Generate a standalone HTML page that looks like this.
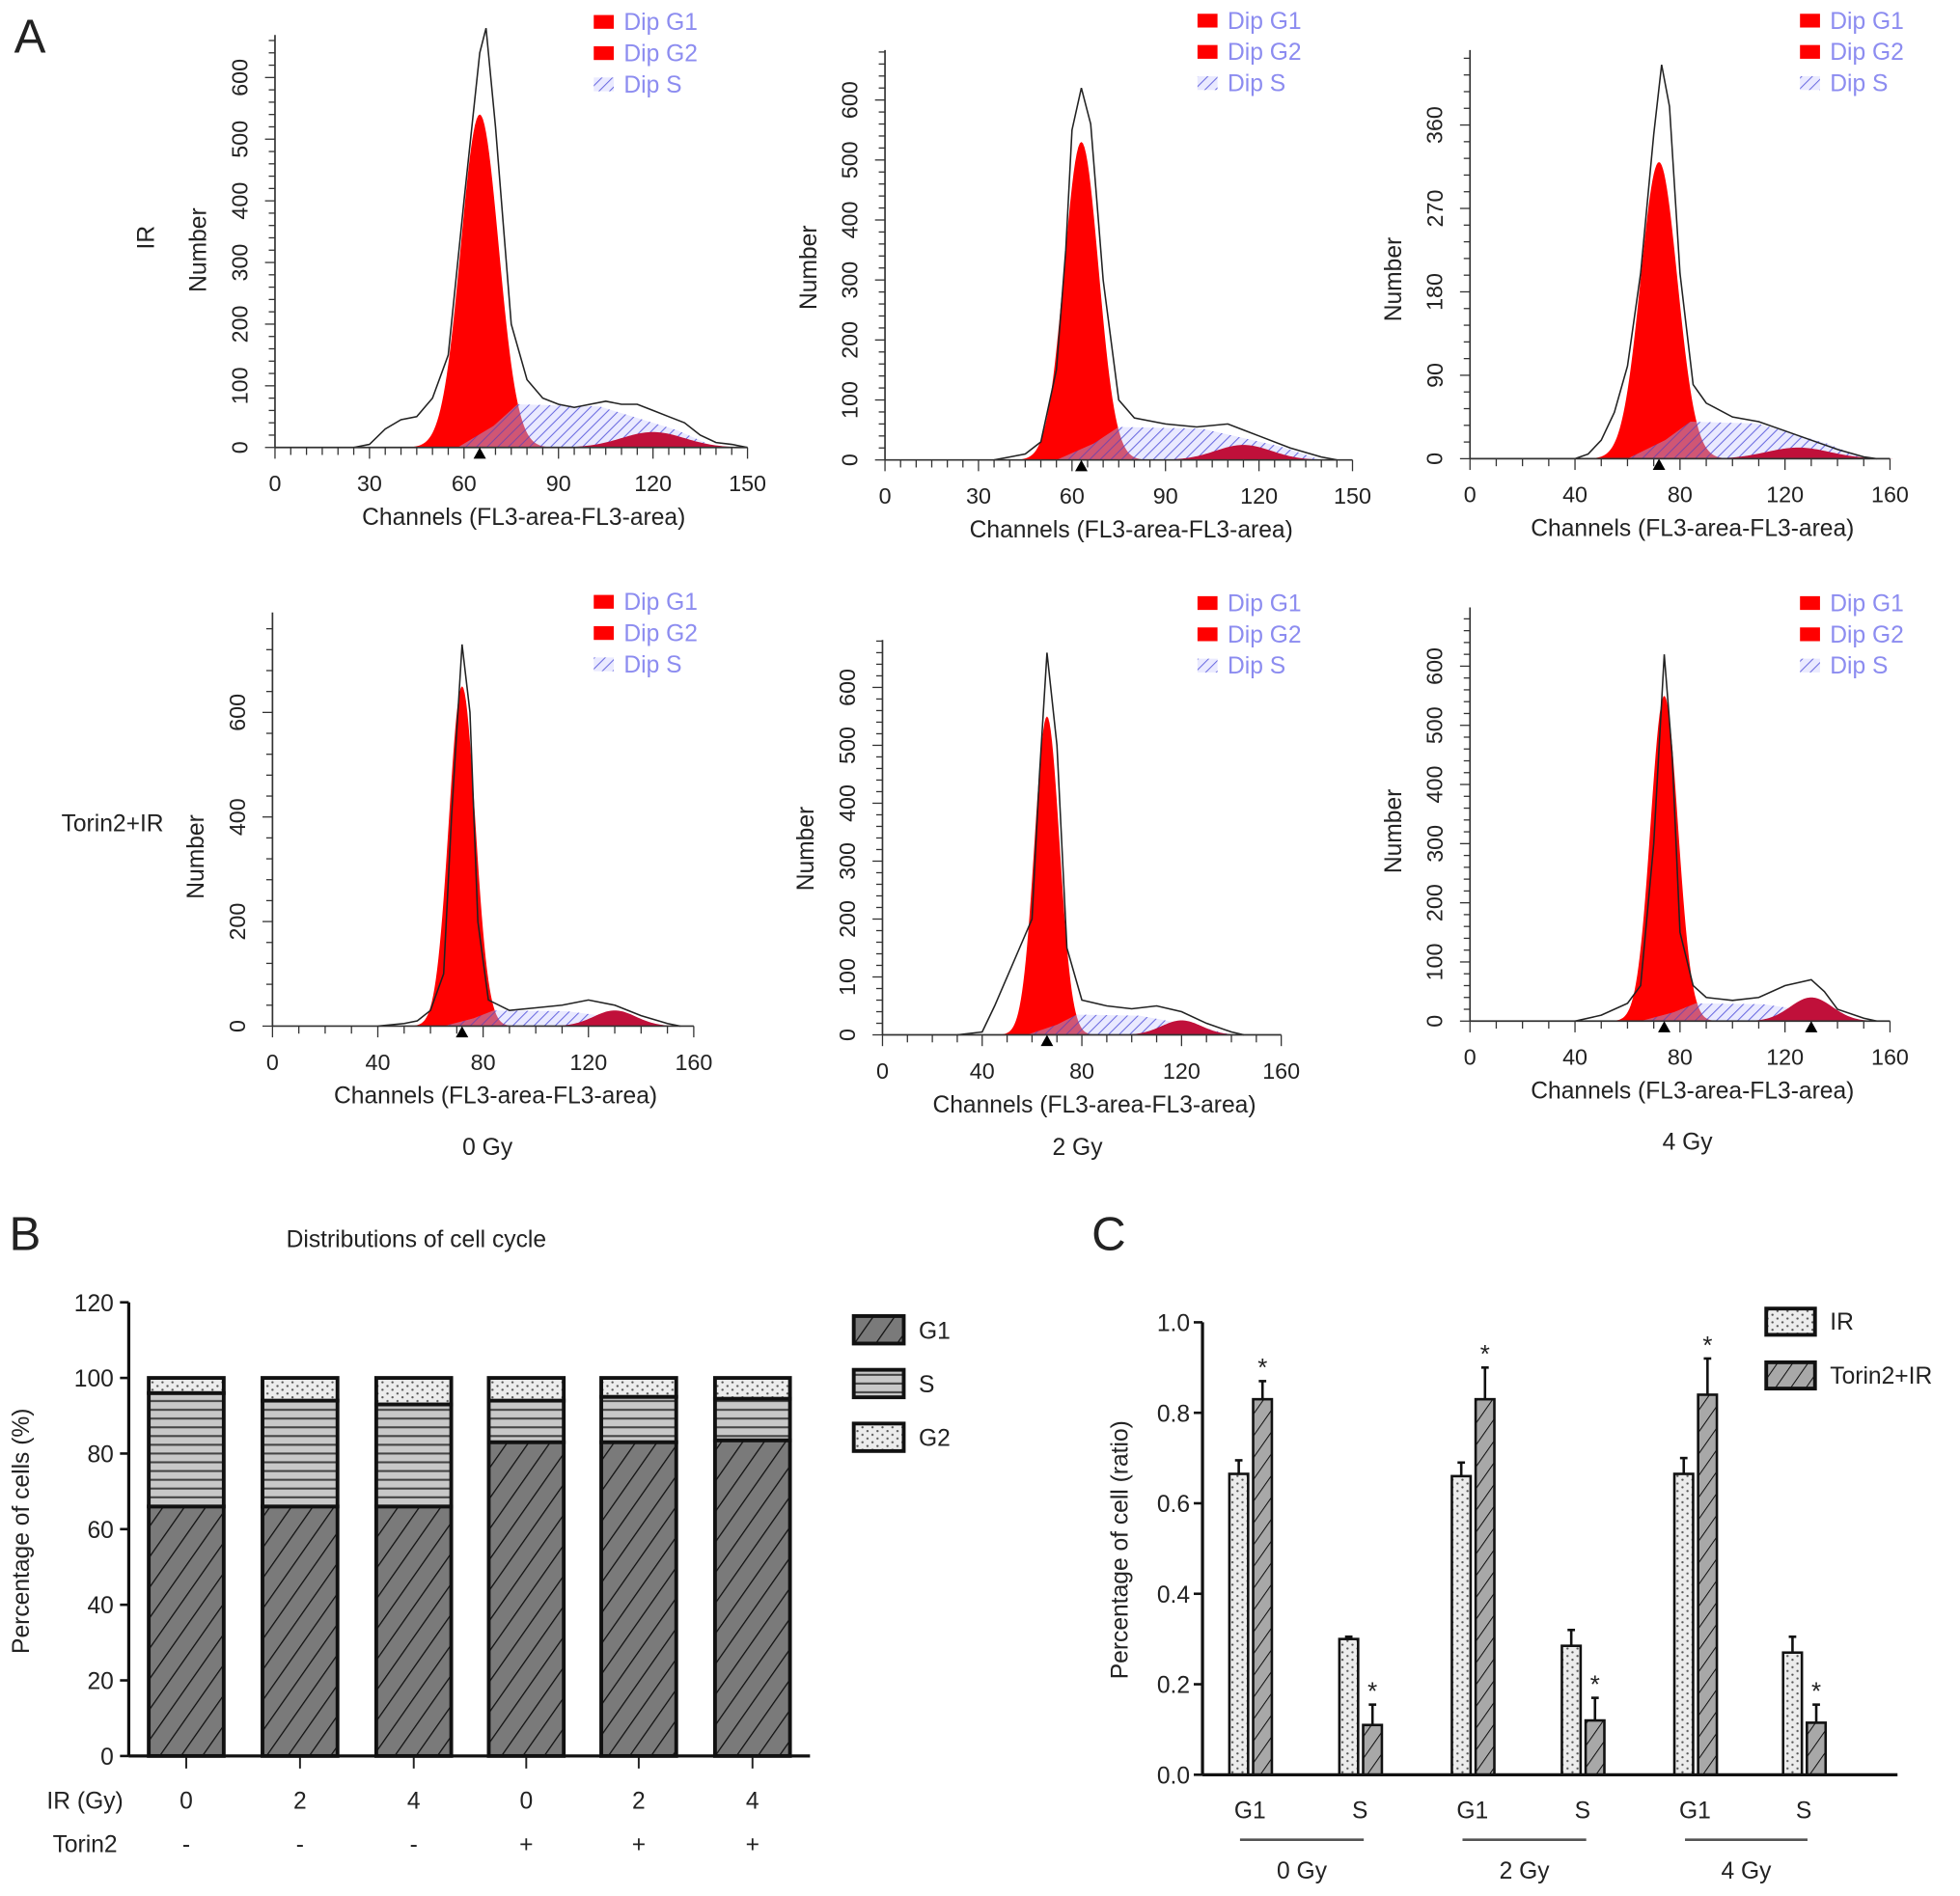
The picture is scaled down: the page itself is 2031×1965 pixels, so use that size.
<!DOCTYPE html>
<html><head><meta charset="utf-8"><style>
html,body{margin:0;padding:0;background:#fff}
svg{display:block}
text{font-family:"Liberation Sans",Arial,sans-serif}
</style></head><body>
<svg id="fig" width="2031" height="1965" viewBox="0 0 1568 1517" xmlns="http://www.w3.org/2000/svg">
<defs>
<pattern id="hatchS" patternUnits="userSpaceOnUse" width="6" height="6" patternTransform="rotate(45)"><rect width="6" height="6" fill="#dcdcff" opacity="0.6"/><line x1="0" y1="0" x2="0" y2="6" stroke="#6a6ae0" stroke-width="1.6"/></pattern>
<pattern id="diag" patternUnits="userSpaceOnUse" width="14" height="14" patternTransform="rotate(35)"><rect width="14" height="14" fill="#7a7a7a"/><line x1="0" y1="0" x2="0" y2="14" stroke="#111" stroke-width="2"/></pattern>
<pattern id="diagC" patternUnits="userSpaceOnUse" width="10" height="10" patternTransform="rotate(35)"><rect width="10" height="10" fill="#a8a8a8"/><line x1="0" y1="0" x2="0" y2="10" stroke="#111" stroke-width="1.6"/></pattern>
<pattern id="horiz" patternUnits="userSpaceOnUse" width="8" height="7"><rect width="8" height="7" fill="#c8c8c8"/><line x1="0" y1="1" x2="8" y2="1" stroke="#444" stroke-width="1.6"/></pattern>
<pattern id="dots" patternUnits="userSpaceOnUse" width="8" height="6"><rect width="8" height="6" fill="#ececec"/><circle cx="2" cy="2" r="0.9" fill="#555"/><circle cx="6" cy="5" r="0.9" fill="#555"/></pattern>
</defs>
<g id="root"></g>
</svg>
<script>
// ---------- Panel A data ----------
const h1X=[0,25,30,35,40,45,50,55,60,65,67,70,75,80,85,90,95,100,105,110,115,120,125,130,135,140,145,150];
const h1Y=[0,0,5,30,45,50,80,150,400,640,680,520,200,110,80,70,65,70,75,70,70,60,50,40,20,8,5,0];
const h2X=[35,40,45,50,55,58,60,63,66,70,75,80,90,100,110,115,120,130,140,145];
const h2Y=[0,5,10,30,150,350,550,620,560,300,100,70,60,55,60,50,40,20,5,0];
const h3X=[40,45,50,55,60,65,70,73,76,80,85,90,100,110,120,130,140,150,155];
const h3Y=[0,5,20,50,100,200,350,425,380,200,80,60,45,40,30,20,10,2,0];
const h4X=[40,50,55,60,65,68,72,75,78,82,90,100,110,120,130,140,150,155];
const h4Y=[0,5,10,30,100,400,730,600,200,50,30,35,40,50,40,20,5,0];
const h5X=[30,40,45,50,55,60,63,66,70,74,80,90,100,110,120,130,140,145];
const h5Y=[0,5,50,100,150,200,450,660,500,150,60,50,45,50,40,20,5,0];
const h6X=[40,50,60,65,70,74,77,80,85,90,100,110,120,130,135,140,150,155];
const h6Y=[0,10,30,60,300,620,450,150,60,40,35,40,60,70,50,20,5,0];
const g1Mean=[65,63,72,72,66,74], g1Height=[540,530,320,650,550,550], g1Sd=[6,5.5,7,5,5,5.2];
const g2Mean=[120,115,125,130,120,130], g2Height=[25,25,12,30,25,40], g2Sd=[10,9,12,8,8,8];
const sLevel=[70,55,40,30,35,30];
const sStart=[58,55,60,65,58,65], sEnd=[140,140,150,150,140,150];
const xTicks150=[0,30,60,90,120,150], xTicks160=[0,40,80,120,160];
const yTicks1=[0,100,200,300,400,500,600], yTicks3=[0,90,180,270,360], yTicks4=[0,200,400,600];

// ---------- Panel B data ----------
const bIR=['0','2','4','0','2','4'], bTorin=['-','-','-','+','+','+'];
const bG1=[66,66,66,83,83,83.5], bS=[30,28,27,11,12,11];
const bTicks=[0,20,40,60,80,100,120];
// ---------- Panel C data ----------
const cCats=['G1','S','G1','S','G1','S'];
const cIR=[0.665,0.30,0.66,0.285,0.665,0.27], cIRerr=[0.03,0.005,0.03,0.035,0.035,0.035];
const cT=[0.83,0.11,0.83,0.12,0.84,0.115], cTerr=[0.04,0.045,0.07,0.05,0.08,0.04];
const cTicks=[0,0.2,0.4,0.6,0.8,1.0];
const cGroups=['0 Gy','2 Gy','4 Gy'];

const NS='http://www.w3.org/2000/svg';
const root=document.getElementById('root');
function mk(tag,attrs,parent,txt){const e=document.createElementNS(NS,tag);for(const k in attrs)e.setAttribute(k,attrs[k]);if(txt!==undefined)e.textContent=txt;(parent||root).appendChild(e);return e;}

function t(x,y,s,size,name,opts){opts=opts||{};const e=mk('text',{x:x,y:y,'font-size':size,'text-anchor':opts.anchor||'middle',fill:opts.fill||'#222'},opts.parent,s);


if(opts.rot)e.setAttribute('transform','rotate(-90 '+x+' '+y+')');return e;}

t(24,42,'A',38,'panel-a-label');
t(20,1000,'B',38,'panel-b-label');
t(887,1000,'C',38,'panel-c-label');

const panels=[
 {ox:220,oy:358,top:28,xmax:150,xpx:378,ymaxv:600,ypx:296,xt:xTicks150,yt:yTicks1,X:h1X,Y:h1Y,lx:475,ly:18},
 {ox:708,oy:368,top:40,xmax:150,xpx:374,ymaxv:600,ypx:288,xt:xTicks150,yt:yTicks1,X:h2X,Y:h2Y,lx:958,ly:17},
 {ox:1176,oy:367,top:40,xmax:160,xpx:336,ymaxv:360,ypx:267,xt:xTicks160,yt:yTicks3,X:h3X,Y:h3Y,lx:1440,ly:17},
 {ox:218,oy:821,top:490,xmax:160,xpx:337,ymaxv:600,ypx:251,xt:xTicks160,yt:yTicks4,X:h4X,Y:h4Y,lx:475,ly:482},
 {ox:706,oy:828,top:512,xmax:160,xpx:319,ymaxv:600,ypx:278,xt:xTicks160,yt:yTicks1,X:h5X,Y:h5Y,lx:958,ly:483},
 {ox:1176,oy:817,top:486,xmax:160,xpx:336,ymaxv:600,ypx:284,xt:xTicks160,yt:yTicks1,X:h6X,Y:h6Y,lx:1440,ly:483}
];
panels.forEach((p,i)=>{
 const g=mk('g',{});
 
 
 const sx=v=>p.ox+v/p.xmax*p.xpx, sy=v=>p.oy-v/p.ymaxv*p.ypx;
 const gauss=(c,m,h,s)=>h*Math.exp(-0.5*((c-m)/s)**2);
 let d='M'+sx(g1Mean[i]-4*g1Sd[i])+','+sy(0);
 for(let c=g1Mean[i]-4*g1Sd[i];c<=g1Mean[i]+4*g1Sd[i];c+=0.5)d+=' L'+sx(c)+','+sy(gauss(c,g1Mean[i],g1Height[i],g1Sd[i]));
 d+=' L'+sx(g1Mean[i]+4*g1Sd[i])+','+sy(0)+'Z';
 const a=mk('path',{d:d,fill:'#ff0000'},g);
 const s0=sStart[i],s1=sEnd[i],L=sLevel[i];
 const sPts=[[s0,0],[s0+(g1Mean[i]+12-s0)*0.6,L*0.5],[g1Mean[i]+12,L],[s0+(s1-s0)*0.55,L*0.95],[s0+(s1-s0)*0.85,L*0.4],[s1,0]];
 const sd='M'+sPts.map(q=>sx(q[0])+','+sy(q[1])).join(' L')+'Z';
 const sa=mk('path',{d:sd,fill:'url(#hatchS)'},g);
 let d2='M'+sx(g2Mean[i]-3*g2Sd[i])+','+sy(0);
 for(let c=g2Mean[i]-3*g2Sd[i];c<=g2Mean[i]+3*g2Sd[i];c+=0.5)d2+=' L'+sx(c)+','+sy(gauss(c,g2Mean[i],g2Height[i],g2Sd[i]));
 d2+=' L'+sx(g2Mean[i]+3*g2Sd[i])+','+sy(0)+'Z';
 const a2=mk('path',{d:d2,fill:'#c0103a'},g);
 const ov=mk('path',{d:sd,fill:'#a00030',opacity:0.35},g);
 ov.setAttribute('clip-path','url(#clipg1'+i+')');
 const cp=mk('clipPath',{id:'clipg1'+i},g);mk('path',{d:d},cp);
 const od='M'+p.X.map((x,k)=>sx(x)+','+sy(p.Y[k])).join(' L');
 const ol=mk('path',{d:od,fill:'none',stroke:'#222','stroke-width':1.2},g);
 mk('line',{x1:p.ox,y1:p.top,x2:p.ox,y2:p.oy,stroke:'#333','stroke-width':1.3},g);
 mk('line',{x1:p.ox,y1:p.oy,x2:sx(p.xmax),y2:p.oy,stroke:'#333','stroke-width':1.3},g);
 for(let v=0;v<=p.xmax;v+=(p.xmax==150?5:10)){const big=p.xt.includes(v);mk('line',{x1:sx(v),y1:p.oy,x2:sx(v),y2:p.oy+(big?9:6),stroke:'#333','stroke-width':1},g);}
 const ystep=p.yt[1]/5;
 for(let v=0;sy(v)>=p.top;v+=ystep){mk('line',{x1:p.ox,y1:sy(v),x2:p.ox-(v%p.yt[1]==0?8:5),y2:sy(v),stroke:'#333','stroke-width':1},g);}
 p.xt.forEach(v=>t(sx(v),p.oy+35,String(v),18,'x-tick-label',{parent:g}));
 p.yt.forEach(v=>t(p.ox-22,sy(v),String(v),18,'y-tick-label',{parent:g,rot:1}));
 t(sx(p.xmax/2)+10,p.oy+62,'Channels (FL3-area-FL3-area)',19,'x-axis-title',{parent:g});
 t(p.ox-55,sy(p.ymaxv/2)-10,'Number',19,'y-axis-title',{parent:g,rot:1});
 const mks=i==5?[g1Mean[i],g2Mean[i]]:[g1Mean[i]];
 mks.forEach(m=>{const tr=mk('path',{d:'M'+(sx(m)-5)+','+(p.oy+9)+' L'+(sx(m)+5)+','+(p.oy+9)+' L'+sx(m)+','+(p.oy)+'Z',fill:'#000'},g);});
 [['Dip G1','#ff0000'],['Dip G2','#ff0000'],['Dip S','url(#hatchS)']].forEach((e,k)=>{
  const r=mk('rect',{x:p.lx,y:p.ly+k*25-6,width:16,height:11,fill:e[1]},g);
  t(p.lx+24,p.ly+k*25+6,e[0],19,'legend-entry',{parent:g,anchor:'start',fill:'#8c8cf0'});
 });
});
t(123,190,'IR',19,'row-label-ir',{rot:1});
t(90,665,'Torin2+IR',19,'row-label-torin2-ir');
t(390,924,'0 Gy',19,'col-label-0gy');
t(862,924,'2 Gy',19,'col-label-2gy');
t(1350,920,'4 Gy',19,'col-label-4gy');

// ---------- Panel B ----------
(function(){
 const g=mk('g',{});
 const ox=103,oy=1405,ph=363,xs=[149,240,331,421,511,602],bw=60;
 const sy=v=>oy-v/120*ph;
 t(333,998,'Distributions of cell cycle',19,'chart-title',{parent:g});
 bG1.forEach((v,i)=>{
  const segs=[[0,v,'url(#diag)','bar-g1'],[v,v+bS[i],'url(#horiz)','bar-s'],[v+bS[i],100,'url(#dots)','bar-g2']];
  segs.forEach(s=>{const r=mk('rect',{x:xs[i]-bw/2,y:sy(s[1]),width:bw,height:sy(s[0])-sy(s[1]),fill:s[2],stroke:'#111','stroke-width':3},g);});
  mk('line',{x1:xs[i],y1:oy,x2:xs[i],y2:oy+10,stroke:'#222','stroke-width':1.5},g);
  t(xs[i],1447,bIR[i],19,'ir-dose-label',{parent:g});
  t(xs[i],1482,bTorin[i],19,'torin2-label',{parent:g});
 });
 mk('line',{x1:ox,y1:sy(120),x2:ox,y2:oy,stroke:'#111','stroke-width':2.5},g);
 mk('line',{x1:ox,y1:oy,x2:648,y2:oy,stroke:'#111','stroke-width':2.5},g);
 bTicks.forEach(v=>{mk('line',{x1:ox-7,y1:sy(v),x2:ox,y2:sy(v),stroke:'#111','stroke-width':2},g);t(ox-12,sy(v)+7,String(v),19,'y-tick-label',{parent:g,anchor:'end'});});
 t(23,1225,'Percentage of cells (%)',19,'y-axis-title',{parent:g,rot:1});
 t(68,1447,'IR (Gy)',19,'ir-row-title',{parent:g});
 t(68,1482,'Torin2',19,'torin2-row-title',{parent:g});
 [['G1','url(#diag)'],['S','url(#horiz)'],['G2','url(#dots)']].forEach((e,k)=>{
  const r=mk('rect',{x:683,y:1053+k*43,width:40,height:22,fill:e[1],stroke:'#111','stroke-width':3},g);
  t(735,1071+k*43,e[0],19,'legend-entry',{parent:g,anchor:'start'});
 });
})();

// ---------- Panel C ----------
(function(){
 const g=mk('g',{});
 const ox=962,oy=1420,ph=362,bw=15;
 const sy=v=>oy-v*ph;
 const centers=[1000,1088,1178,1266,1356,1443];
 cIR.forEach((v,i)=>{
  const xi=centers[i]-9, xt=centers[i]+10;
  const r=mk('rect',{x:xi-bw/2,y:sy(v),width:bw,height:sy(0)-sy(v),fill:'url(#dots)',stroke:'#111','stroke-width':2},g);
  mk('line',{x1:xi,y1:sy(v),x2:xi,y2:sy(v+cIRerr[i]),stroke:'#111','stroke-width':2},g);
  mk('line',{x1:xi-3,y1:sy(v+cIRerr[i]),x2:xi+3,y2:sy(v+cIRerr[i]),stroke:'#111','stroke-width':2},g);
  const r2=mk('rect',{x:xt-bw/2,y:sy(cT[i]),width:bw,height:sy(0)-sy(cT[i]),fill:'url(#diagC)',stroke:'#111','stroke-width':2},g);
  mk('line',{x1:xt,y1:sy(cT[i]),x2:xt,y2:sy(cT[i]+cTerr[i]),stroke:'#111','stroke-width':2},g);
  mk('line',{x1:xt-3,y1:sy(cT[i]+cTerr[i]),x2:xt+3,y2:sy(cT[i]+cTerr[i]),stroke:'#111','stroke-width':2},g);
  t(xt,sy(cT[i]+cTerr[i])-4,'*',20,'significance-star',{parent:g});
  t(centers[i],1455,cCats[i],19,'x-category-label',{parent:g});
 });
 cGroups.forEach((s,k)=>{
  const a=centers[2*k]-8,b=centers[2*k+1]+3;
  mk('line',{x1:a,y1:1472,x2:b,y2:1472,stroke:'#555','stroke-width':2},g);
  t((a+b)/2,1503,s,19,'group-label',{parent:g});
 });
 mk('line',{x1:ox,y1:sy(1),x2:ox,y2:oy,stroke:'#111','stroke-width':2.5},g);
 mk('line',{x1:ox,y1:oy,x2:1518,y2:oy,stroke:'#111','stroke-width':2.5},g);
 cTicks.forEach(v=>{mk('line',{x1:ox-7,y1:sy(v),x2:ox,y2:sy(v),stroke:'#111','stroke-width':2},g);t(ox-10,sy(v)+7,v.toFixed(1),19,'y-tick-label',{parent:g,anchor:'end'});});
 t(902,1240,'Percentage of cell (ratio)',19,'y-axis-title',{parent:g,rot:1});
 [['IR','url(#dots)'],['Torin2+IR','url(#diagC)']].forEach((e,k)=>{
  const r=mk('rect',{x:1413,y:1047+k*43,width:39,height:21,fill:e[1],stroke:'#111','stroke-width':3},g);
  t(1464,1064+k*43,e[0],19,'legend-entry',{parent:g,anchor:'start'});
 });
})();
</script>
</body></html>
